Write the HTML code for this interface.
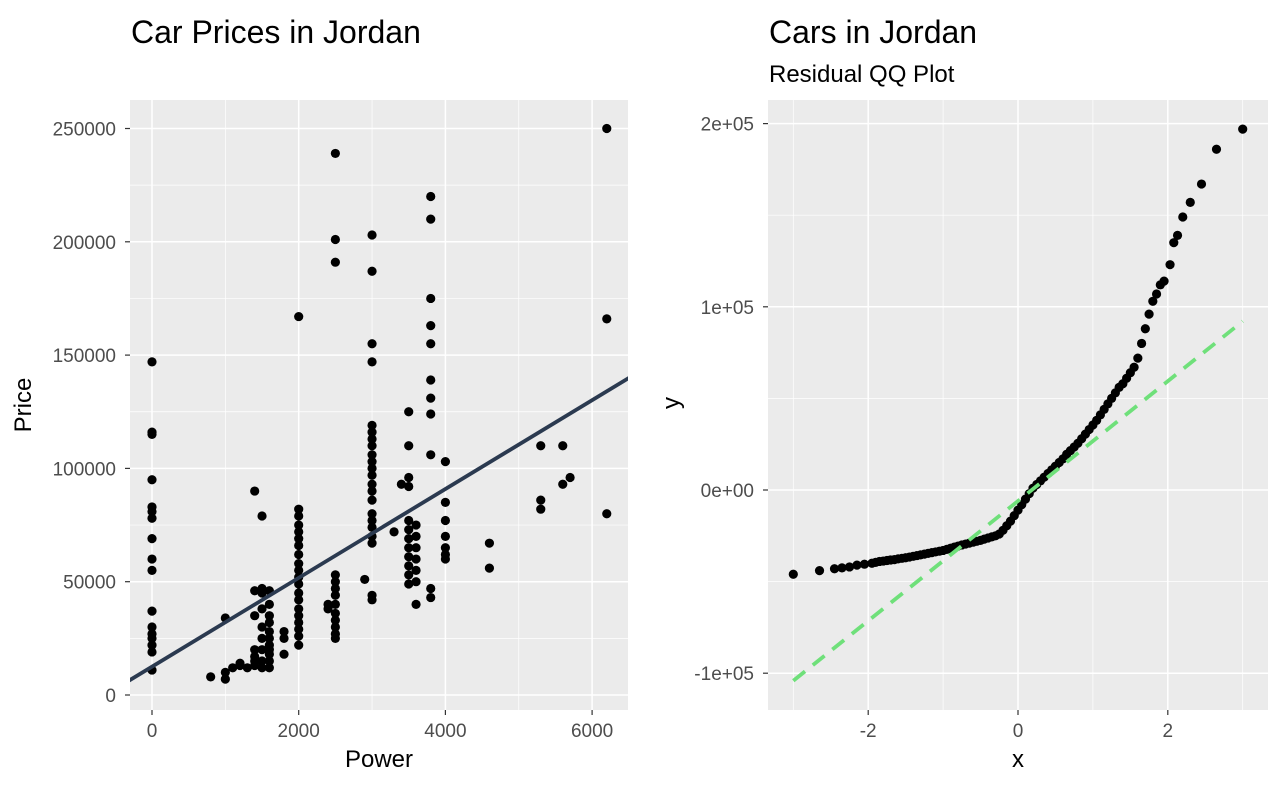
<!DOCTYPE html>
<html><head><meta charset="utf-8"><style>
body{margin:0;background:#fff;width:1282px;height:792px;overflow:hidden;font-family:"Liberation Sans",sans-serif}
svg text{font-family:"Liberation Sans",sans-serif}
</style></head><body>
<svg id="c" width="1282" height="792" xmlns="http://www.w3.org/2000/svg"></svg>
<script>
// Left scatter data
const power=[0,0,0,0,0,0,0,0,0,0,0,0,0,0,0,0,0,800,1000,1000,1000,1100,1200,1200,1300,1400,1400,1400,1400,1400,1400,1400,1500,1500,1500,1500,1500,1500,1500,1500,1500,1600,1600,1600,1600,1600,1600,1600,1600,1600,1600,1600,1800,1800,1800,2000,2000,2000,2000,2000,2000,2000,2000,2000,2000,2000,2000,2000,2000,2000,2000,2000,2000,2000,2000,2400,2400,2500,2500,2500,2500,2500,2500,2500,2500,2500,2500,2500,2500,2500,2900,3000,3000,3000,3000,3000,3000,3000,3000,3000,3000,3000,3000,3000,3000,3000,3000,3000,3000,3000,3000,3000,3000,3300,3400,3500,3500,3500,3500,3500,3500,3500,3500,3500,3500,3500,3500,3600,3600,3600,3600,3600,3600,3600,3800,3800,3800,3800,3800,3800,3800,3800,3800,3800,3800,4000,4000,4000,4000,4000,4000,4000,4600,4600,5300,5300,5300,5600,5600,5700,6200,6200,6200];
const price=[147,116,115,95,83,81,78,69,60,55,37,30,27,25,22,19,11,8,7,10,34,12,14,13,12,90,46,35,20,17,15,13,79,47,45,38,30,25,20,15,12,46,40,35,32,28,25,22,20,18,15,12,28,25,18,167,82,79,75,72,69,66,62,58,55,52,49,45,42,38,35,32,29,26,22,40,38,239,201,191,53,50,47,44,40,36,33,30,27,25,51,203,187,155,147,119,116,113,110,106,103,100,97,93,90,86,80,77,74,70,67,44,42,72,93,125,110,96,92,77,73,69,65,61,57,53,49,75,70,65,60,55,50,40,220,210,175,163,155,139,131,124,106,47,43,103,85,77,70,65,62,60,67,56,110,86,82,110,93,96,250,166,80].map(v=>v*1000);
const fitIntercept=12500, fitSlope=19.6;
const xTicksL=[0,2000,4000,6000], yTicksL=[0,50000,100000,150000,200000,250000];
// QQ data
const qx=[-3.0,-2.65,-2.45,-2.35,-2.25,-2.15,-2.05,-1.95,-1.9,-1.85,-1.8,-1.75,-1.7,-1.65,-1.6,-1.55,-1.5,-1.45,-1.4,-1.35,-1.3,-1.25,-1.2,-1.15,-1.1,-1.05,-1,-0.95,-0.9,-0.85,-0.8,-0.75,-0.7,-0.65,-0.6,-0.55,-0.5,-0.45,-0.4,-0.35,-0.3,-0.25,-0.2,-0.15,-0.1,-0.05,0,0.05,0.1,0.15,0.2,0.25,0.3,0.35,0.4,0.45,0.5,0.55,0.6,0.65,0.7,0.75,0.8,0.85,0.9,0.95,1.0,1.05,1.1,1.15,1.2,1.25,1.3,1.35,1.4,1.45,1.5,1.55,1.6,1.65,1.7,1.75,1.8,1.85,1.9,1.95,2.03,2.08,2.13,2.2,2.3,2.45,2.65,3.0];
const qy=[-46,-44,-43,-42.5,-42,-41,-40.5,-40,-39.5,-39,-38.8,-38.5,-38.2,-38,-37.6,-37.3,-37,-36.6,-36.2,-35.8,-35.4,-35,-34.6,-34.2,-33.8,-33.4,-33,-32.4,-31.8,-31.2,-30.6,-30,-29.5,-29,-28.5,-28,-27.5,-26.8,-26.2,-25.6,-25,-24,-22,-19.5,-17,-14,-11,-8,-5,-2,1,3,5,7,9,11,13,15,17,19.5,21.5,23.5,25.5,28,30.5,33,35.5,38,41,44,47,50,53,56,58,61,64,67,72,80,88,96,103,107,112,114,123,135,139,149,157,167,186,197].map(v=>v*1000);
const qqIntercept=-6000, qqSlope=32700;
const xTicksR=[-2,0,2], yTicksR=[-100000,0,100000,200000], yLabR=["-1e+05","0e+00","1e+05","2e+05"];

const svg=document.getElementById('c');const NS='http://www.w3.org/2000/svg';
function el(t,a,p){const e=document.createElementNS(NS,t);for(const k in a)e.setAttribute(k,a[k]);(p||svg).appendChild(e);return e;}
function txt(s,a,name){const e=el('text',a);e.textContent=s;return e;}

function panel(P){
  const g=el('g',{});
  
  
  const bg=el('rect',{x:P.x0,y:P.y0,width:P.x1-P.x0,height:P.y1-P.y0,fill:'#ebebeb'},g);
  
  
  P.minorX.forEach(v=>el('line',{x1:P.sx(v),x2:P.sx(v),y1:P.y0,y2:P.y1,stroke:'#fff','stroke-width':0.7},g));
  P.minorY.forEach(v=>el('line',{y1:P.sy(v),y2:P.sy(v),x1:P.x0,x2:P.x1,stroke:'#fff','stroke-width':0.7},g));
  P.xt.forEach((v,i)=>{const x=P.sx(v);el('line',{x1:x,x2:x,y1:P.y0,y2:P.y1,stroke:'#fff','stroke-width':1.5},g);
    el('line',{x1:x,x2:x,y1:P.y1,y2:P.y1+5,stroke:'#333','stroke-width':1.2},g);
    txt(P.xl[i],{x:x,y:P.y1+27,'font-size':19,fill:'#4d4d4d','text-anchor':'middle'},'x-tick-label');});
  P.yt.forEach((v,i)=>{const y=P.sy(v);el('line',{y1:y,y2:y,x1:P.x0,x2:P.x1,stroke:'#fff','stroke-width':1.5},g);
    el('line',{y1:y,y2:y,x1:P.x0-5,x2:P.x0,stroke:'#333','stroke-width':1.2},g);
    txt(P.yl[i],{x:P.x0-14,y:y+7,'font-size':19,fill:'#4d4d4d','text-anchor':'end'},'y-tick-label');});
  const cp=el('clipPath',{id:P.name+'-clip'});el('rect',{x:P.x0,y:P.y0,width:P.x1-P.x0,height:P.y1-P.y0},cp);
  return el('g',{'clip-path':'url(#'+P.name+'-clip)'},g);
}

// Left panel
const L={name:'price-panel',x0:130,x1:628,y0:100,y1:710,sx:v=>152+v*0.07335,sy:v=>695-v*0.002266,
 xt:xTicksL,xl:xTicksL.map(String),yt:yTicksL,yl:yTicksL.map(String),minorX:[-1000,1000,3000,5000],minorY:[25000,75000,125000,175000,225000]};
const gl=panel(L);
for(let i=0;i<power.length;i++){const c=el('circle',{cx:L.sx(power[i]),cy:L.sy(price[i]),r:4.6,fill:'#000'},gl);
 
 }
const fl=el('line',{x1:L.sx(-400),y1:L.sy(fitIntercept+fitSlope*-400),x2:L.sx(6600),y2:L.sy(fitIntercept+fitSlope*6600),stroke:'#2b3a50','stroke-width':3.8},gl);


txt('Car Prices in Jordan',{x:131,y:43,'font-size':32,fill:'#000'},'left-title');
txt('Power',{x:379,y:767,'font-size':24,fill:'#000','text-anchor':'middle'},'x-axis-title');
txt('Price',{x:0,y:0,'font-size':24,fill:'#000','text-anchor':'middle',transform:'translate(31,405) rotate(-90)'},'y-axis-title');

// Right panel
const R={name:'qq-panel',x0:768,x1:1268,y0:100,y1:710,sx:v=>1018+v*74.9,sy:v=>490-v*0.001832,
 xt:xTicksR,xl:xTicksR.map(String),yt:yTicksR,yl:yLabR,minorX:[-3,-1,1,3],minorY:[-150000,-50000,50000,150000]};
const gr=panel(R);
for(let i=0;i<qx.length;i++){const c=el('circle',{cx:R.sx(qx[i]),cy:R.sy(qy[i]),r:4.6,fill:'#000'},gr);
 
 }
const ql=el('line',{x1:R.sx(-3),y1:R.sy(qqIntercept+qqSlope*-3),x2:R.sx(3),y2:R.sy(qqIntercept+qqSlope*3),stroke:'#6fe07a','stroke-width':3.8,'stroke-dasharray':'15,10'},gr);


txt('Cars in Jordan',{x:769,y:43,'font-size':32,fill:'#000'},'right-title');
txt('Residual QQ Plot',{x:769,y:82,'font-size':24,fill:'#000'},'right-subtitle');
txt('x',{x:1018,y:767,'font-size':24,fill:'#000','text-anchor':'middle'},'qq-x-axis-title');
txt('y',{x:0,y:0,'font-size':24,fill:'#000','text-anchor':'middle',transform:'translate(679,403) rotate(-90)'},'qq-y-axis-title');
</script>
</body></html>
